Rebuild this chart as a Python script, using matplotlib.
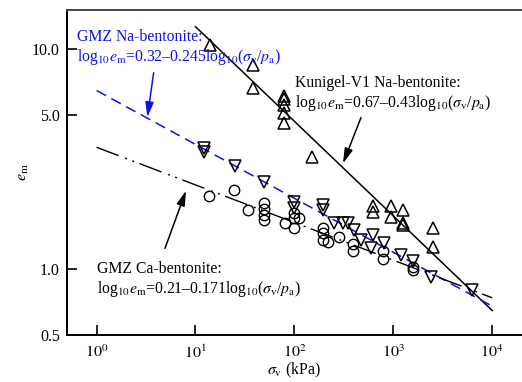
import matplotlib
matplotlib.use("Agg")
import matplotlib.pyplot as plt
import numpy as np

plt.rcParams['font.family'] = ['Liberation Serif', 'DejaVu Serif']
plt.rcParams['mathtext.fontset'] = 'stix'

# Kunigel-V1 Na-bentonite (triangles up)
kun_s = [14.1, 38.5, 38.5, 78, 78, 78, 78, 78, 152, 618, 618, 948, 948, 1242, 1242, 1242, 2496, 2496]
kun_e = [10.4, 8.46, 6.63, 6.11, 5.88, 5.57, 5.1, 4.61, 3.23, 1.92, 1.82, 1.92, 1.72, 1.85, 1.62, 1.58, 1.53, 1.26]

# GMZ Na-bentonite (triangles down)
na_s = [12.3, 12.3, 24.8, 49.8, 100, 100, 193, 193, 254, 308, 345, 404, 472, 618, 593, 811, 1196, 1567, 2403, 6280]
na_e = [3.54, 3.41, 2.92, 2.49, 2.02, 1.88, 1.95, 1.85, 1.61, 1.61, 1.61, 1.50, 1.35, 1.43, 1.24, 1.31, 1.16, 1.08, 0.92, 0.80]

# GMZ Ca-bentonite (circles)
ca_s = [13.6, 24.4, 33.8, 49.8, 49.8, 49.8, 49.8, 81, 98, 98, 98, 110, 193, 193, 193, 217, 280, 388, 388, 780, 780, 1567, 1567]
ca_e = [2.15, 2.27, 1.84, 1.99, 1.87, 1.76, 1.67, 1.62, 1.79, 1.70, 1.53, 1.70, 1.53, 1.45, 1.35, 1.33, 1.40, 1.29, 1.20, 1.20, 1.11, 1.02, 0.99]

pa = 100.0

fig = plt.figure(figsize=(5.22, 3.82), dpi=100)
ax = fig.add_axes([0.128, 0.123, 0.872, 0.851])

ax.set_xscale('log')
ax.set_yscale('log')
ax.set_xlim(0.5, 2e4)
ax.set_ylim(0.5, 15)

# fitted lines
s1 = np.logspace(1, 4, 50)
ax.plot(s1, 10 ** (0.67 - 0.43 * np.log10(s1 / pa)), color='black', lw=1.1)
s2 = np.logspace(0, 4, 50)
ax.plot(s2, 10 ** (0.32 - 0.245 * np.log10(s2 / pa)), color='#1010ee', lw=1.1,
        linestyle=(0, (7, 4)))
ax.plot(s2, 10 ** (0.21 - 0.171 * np.log10(s2 / pa)), color='black', lw=1.0,
        linestyle=(0, (17, 5, 1.5, 4, 1.5, 4)))

ax.plot(kun_s, kun_e, '^', ms=9, mfc='none', mec='black', mew=1.1)
ax.plot(na_s, na_e, 'v', ms=9, mfc='none', mec='black', mew=1.1)
ax.plot(ca_s, ca_e, 'o', ms=7.5, mfc='none', mec='black', mew=1.0)

ax.set_yticks([0.5, 1.0, 5.0, 10.0])
ax.set_yticklabels(['0.5', '1.0', '5.0', '10.0'])
ax.set_xticks([1, 10, 100, 1000, 10000])
ax.set_xticklabels([r'$10^0$', r'$10^1$', r'$10^2$', r'$10^3$', r'$10^4$'])
ax.minorticks_off()
ax.tick_params(direction='in', length=7, width=1.2, labelsize=11.5, pad=5)
ax.tick_params(axis='x', pad=7)

ax.spines['right'].set_visible(False)
ax.spines['top'].set_color('#444444')
for sp in ['left', 'bottom', 'top']:
    ax.spines[sp].set_linewidth(1.4)

ax.set_xlabel(r'$\sigma_{\rm v}$ (kPa)', fontsize=11.5, labelpad=-1)
ax.set_ylabel(r'$e_{\rm m}$', fontsize=11.5, labelpad=1)

def to_ax(px, py):
    return px / 522 * 1.0, 1 - py / 382

fsz = 11.3
fig.text(77 / 522, 1 - 37 / 382, 'GMZ Na-bentonite:', color='#1010ee', fontsize=fsz, va='center')
fig.text(77 / 522, 1 - 57 / 382,
         r'log$_{10}$$e_{\rm m}$=0.32–0.245log$_{10}$($\sigma_{\rm v}$/$p_{\rm a}$)',
         color='#1010ee', fontsize=fsz, va='center')
ax.annotate('', xy=to_ax(147, 120), xytext=to_ax(154, 70),
            xycoords='figure fraction', textcoords='figure fraction',
            arrowprops=dict(arrowstyle='-|>,head_length=0.9,head_width=0.25', color='#1010ee', lw=1.1))

fig.text(295 / 522, 1 - 83 / 382, 'Kunigel-V1 Na-bentonite:', color='black', fontsize=fsz, va='center')
fig.text(295 / 522, 1 - 103 / 382,
         r'log$_{10}$$e_{\rm m}$=0.67–0.43log$_{10}$($\sigma_{\rm v}$/$p_{\rm a}$)',
         color='black', fontsize=fsz, va='center')
ax.annotate('', xy=to_ax(342, 166), xytext=to_ax(362, 115),
            xycoords='figure fraction', textcoords='figure fraction',
            arrowprops=dict(arrowstyle='-|>,head_length=0.9,head_width=0.25', color='black', lw=1.1))

fig.text(97 / 522, 1 - 269 / 382, 'GMZ Ca-bentonite:', color='black', fontsize=fsz, va='center')
fig.text(97 / 522, 1 - 289 / 382,
         r'log$_{10}$$e_{\rm m}$=0.21–0.171log$_{10}$($\sigma_{\rm v}$/$p_{\rm a}$)',
         color='black', fontsize=fsz, va='center')
ax.annotate('', xy=to_ax(187, 188), xytext=to_ax(164, 251),
            xycoords='figure fraction', textcoords='figure fraction',
            arrowprops=dict(arrowstyle='-|>,head_length=0.9,head_width=0.25', color='black', lw=1.1))

fig.savefig('out.png', dpi=100)
